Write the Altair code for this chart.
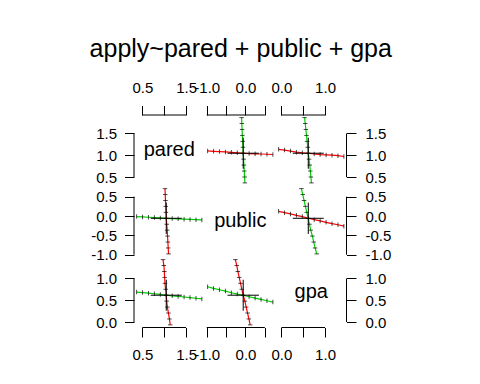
import altair as alt
import pandas as pd

TITLE = "apply~pared + public + gpa"
names = ["pared", "public", "gpa"]

# --- profile of "pared" (pared stepped, other coefficients re-fitted)
pp_step = [-5, -4, -3, -2, -1, 0, 1, 2, 3, 4, 5, 6]
pp_pared = [0.370, 0.505, 0.641, 0.777, 0.912, 1.048, 1.184, 1.319, 1.455, 1.591, 1.727, 1.862]
pp_public = [-0.015, -0.023, -0.032, -0.041, -0.049, -0.059, -0.066, -0.074, -0.081, -0.088, -0.095, -0.101]
pp_gpa = [0.688, 0.676, 0.663, 0.650, 0.634, 0.616, 0.603, 0.589, 0.575, 0.561, 0.546, 0.530]

# --- profile of "public"
pu_step = [-6, -5, -4, -3, -2, -1, 0, 1, 2, 3, 4, 5]
pu_public = [-0.978, -0.825, -0.672, -0.518, -0.365, -0.212, -0.059, 0.094, 0.248, 0.401, 0.554, 0.707]
pu_pared = [1.100, 1.092, 1.085, 1.077, 1.069, 1.058, 1.048, 1.041, 1.035, 1.030, 1.024, 1.019]
pu_gpa = [0.810, 0.772, 0.741, 0.710, 0.672, 0.642, 0.616, 0.581, 0.550, 0.519, 0.489, 0.458]

# --- profile of "gpa"
pg_step = [-5, -4, -3, -2, -1, 0, 1, 2, 3, 4, 5, 6]
pg_gpa = [-0.064, 0.072, 0.208, 0.344, 0.480, 0.616, 0.752, 0.888, 1.024, 1.160, 1.296, 1.432]
pg_pared = [1.138, 1.120, 1.097, 1.073, 1.057, 1.048, 1.033, 1.018, 1.010, 1.003, 0.993, 0.973]
pg_public = [0.121, 0.087, 0.053, 0.018, -0.016, -0.059, -0.094, -0.128, -0.163, -0.197, -0.225, -0.262]

# estimates and black cross extents (pared, public, gpa)
estimate = [1.048, -0.059, 0.616]
cross_lo = [0.693, -0.464, 0.261]
cross_hi = [1.403, 0.346, 0.971]

# axis tick values, and labels R dropped on the top/bottom axes
tick_pared = [0.5, 1.0, 1.5]
tick_public = [-1.0, -0.5, 0.0, 0.5]
tick_gpa = [0.0, 0.5, 1.0]
drop_pared = [1.0]
drop_public = [-0.5, 0.5]
drop_gpa = [0.5]

profiles = {
    "pared": pd.DataFrame({"step": pp_step, "pared": pp_pared, "public": pp_public, "gpa": pp_gpa}),
    "public": pd.DataFrame({"step": pu_step, "pared": pu_pared, "public": pu_public, "gpa": pu_gpa}),
    "gpa": pd.DataFrame({"step": pg_step, "pared": pg_pared, "public": pg_public, "gpa": pg_gpa}),
}
ticks = {"pared": tick_pared, "public": tick_public, "gpa": tick_gpa}
drops = {"pared": drop_pared, "public": drop_public, "gpa": drop_gpa}
est = dict(zip(names, estimate))
clo = dict(zip(names, cross_lo))
chi = dict(zip(names, cross_hi))

# R-style usr range: data range extended by 4%
domains = {}
for p in names:
    vals = pd.concat([profiles[q][p] for q in names])
    lo, hi = vals.min(), vals.max()
    d = (hi - lo) * 0.04
    domains[p] = [lo - d, hi + d]

FONT = "Liberation Sans"
RED = "#FF0000"
GREEN = "#00CD00"
W = H = 70.5
TICK = 9.5


def label_expr(drop):
    cond = " || ".join(f"datum.value == {v}" for v in drop) if drop else "false"
    return (f"({cond}) ? '' : (datum.value < 0 ? '-' + format(-datum.value, '.1f') "
            f": format(datum.value, '.1f'))")


def axis_common(p, drop):
    return dict(values=ticks[p], labelExpr=label_expr(drop), domain=False, grid=False,
                tickColor="black", tickWidth=1, tickSize=TICK, labelFont=FONT,
                labelFontSize=15, labelColor="black", labelOverlap=False,
                labelFlush=False, title=None)


def x_axis(p, orient):
    if orient is None:
        return None
    if orient == "top":
        return alt.Axis(orient="top", labelBaseline="alphabetic", labelPadding=13,
                        **axis_common(p, drops[p]))
    return alt.Axis(orient="bottom", labelBaseline="top", labelPadding=10,
                    **axis_common(p, drops[p]))


def y_axis(p, orient):
    if orient is None:
        return None
    if orient == "left":
        return alt.Axis(orient="left", labelAlign="right", labelBaseline="middle",
                        labelPadding=8, **axis_common(p, []))
    return alt.Axis(orient="right", labelAlign="left", labelBaseline="middle",
                    labelPadding=9, **axis_common(p, []))


def sc(p):
    return alt.Scale(domain=domains[p], nice=False, zero=False)


def bracket_layers(xp, yp, xo, yo):
    layers = []
    if xo is not None:
        b = pd.DataFrame({"lo": [min(ticks[xp])], "hi": [max(ticks[xp])]})
        yv = 0 if xo == "top" else H
        layers.append(alt.Chart(b).mark_rule(color="black", strokeWidth=1).encode(
            x=alt.X("lo:Q", scale=sc(xp), axis=x_axis(xp, xo), title=None),
            x2="hi:Q", y=alt.value(yv)))
    if yo is not None:
        b = pd.DataFrame({"lo": [min(ticks[yp])], "hi": [max(ticks[yp])]})
        xv = 0 if yo == "left" else W
        layers.append(alt.Chart(b).mark_rule(color="black", strokeWidth=1).encode(
            y=alt.Y("lo:Q", scale=sc(yp), axis=y_axis(yp, yo), title=None),
            y2="hi:Q", x=alt.value(xv)))
    return layers


panels = []
for i, yp in enumerate(names):
    for j, xp in enumerate(names):
        xo = "top" if i == 0 else ("bottom" if i == 2 else None)
        yo = "left" if j == 0 else ("right" if j == 2 else None)
        layers = []
        if i == j:
            lab = pd.DataFrame({"label": [yp]})
            layers.append(alt.Chart(lab).mark_text(font=FONT, fontSize=20, color="black",
                                                   align="center", baseline="middle").encode(
                text="label:N", x=alt.value(W / 2), y=alt.value(H / 2)))
        else:
            X = alt.X(f"{xp}:Q", scale=sc(xp), axis=x_axis(xp, xo), title=None)
            Y = alt.Y(f"{yp}:Q", scale=sc(yp), axis=y_axis(yp, yo), title=None)
            if i > j:
                cx, cy = GREEN, RED
            else:
                cx, cy = RED, GREEN
            px = profiles[xp]
            py = profiles[yp]
            layers.append(alt.Chart(px).mark_line(color=cx, strokeWidth=1.2).encode(
                x=X, y=Y, order="step:Q"))
            layers.append(alt.Chart(px).mark_tick(orient="vertical", color="black",
                                                  size=4.5, thickness=1).encode(x=X, y=Y))
            layers.append(alt.Chart(py).mark_line(color=cy, strokeWidth=1.2).encode(
                x=X, y=Y, order="step:Q"))
            layers.append(alt.Chart(py).mark_tick(orient="horizontal", color="black",
                                                  size=4.5, thickness=1).encode(x=X, y=Y))
            cr = pd.DataFrame({"xlo": [clo[xp]], "xhi": [chi[xp]], "xc": [est[xp]],
                               "ylo": [clo[yp]], "yhi": [chi[yp]], "yc": [est[yp]]})
            layers.append(alt.Chart(cr).mark_rule(color="black", strokeWidth=1).encode(
                x=alt.X("xlo:Q", scale=sc(xp), axis=x_axis(xp, xo), title=None), x2="xhi:Q",
                y=alt.Y("yc:Q", scale=sc(yp), axis=y_axis(yp, yo), title=None)))
            layers.append(alt.Chart(cr).mark_rule(color="black", strokeWidth=1).encode(
                x=alt.X("xc:Q", scale=sc(xp), axis=x_axis(xp, xo), title=None),
                y=alt.Y("ylo:Q", scale=sc(yp), axis=y_axis(yp, yo), title=None), y2="yhi:Q"))
        layers += bracket_layers(xp, yp, xo, yo)
        panels.append(alt.layer(*layers).properties(width=W, height=H))

chart = alt.concat(
    *panels, columns=3, spacing=0, bounds="flush",
    title=alt.TitleParams(TITLE, font=FONT, fontSize=25, fontWeight="normal",
                          color="black", anchor="middle", baseline="alphabetic", offset=-1),
    padding={"left": 81, "top": 28, "right": 5, "bottom": 5},
).resolve_scale(x="independent", y="independent").configure_view(stroke=None)

chart.save("out.html", embed_options={"renderer": "svg", "actions": False})
